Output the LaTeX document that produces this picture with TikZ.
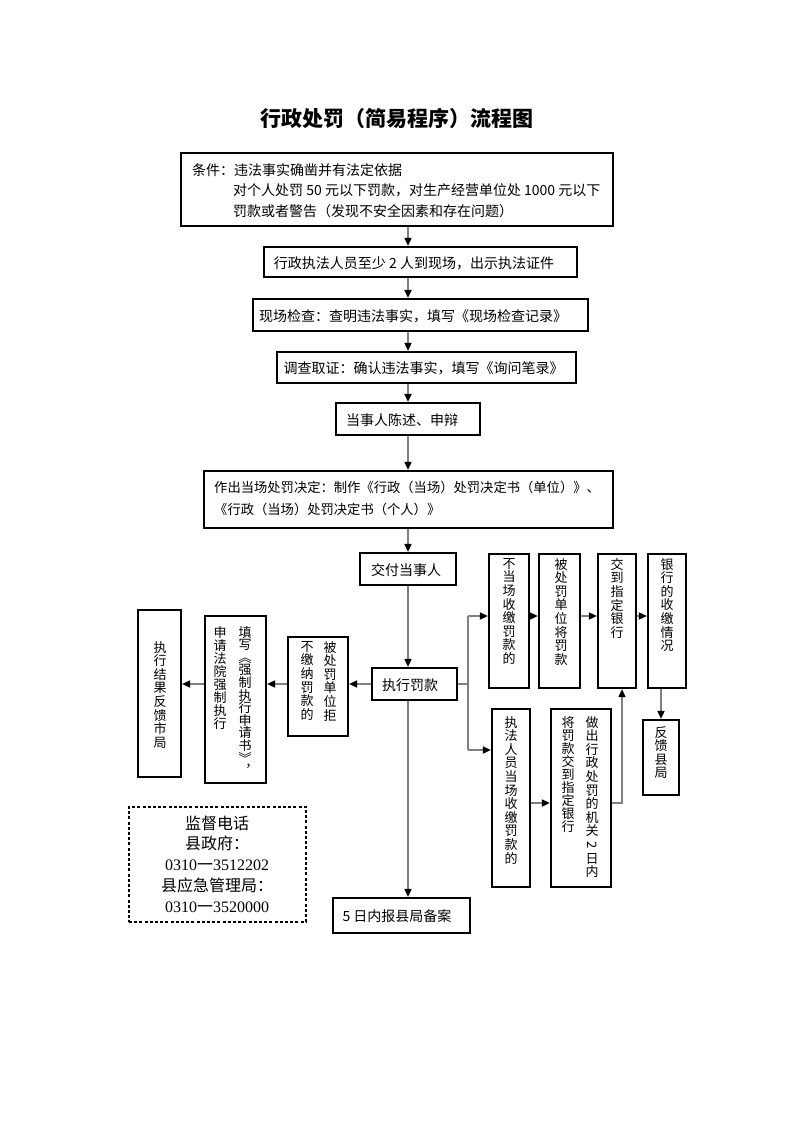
\documentclass[tikz,border=0pt]{standalone}
\usepackage{fontspec}
\usepackage{graphicx}
\setmainfont{Noto Sans CJK SC}
\newfontfamily\sernum{Liberation Serif}
\usetikzlibrary{arrows.meta}
\tikzset{
  box/.style={draw=black, line width=2.2pt, inner sep=0pt, fill=none},
  txt/.style={inner sep=0pt, font=\fontsize{14}{21}\selectfont},
  vtxt/.style={inner sep=0pt, anchor=north, align=center, font=\fontsize{13}{13.6}\selectfont},
  line/.style={draw=gray, line width=1.6pt},
  arr/.style={draw=gray, line width=1.6pt, -{Triangle[length=8pt,width=7pt,black]}},
  supbox/.style={draw=black, line width=1.1pt, dash pattern=on 3pt off 2.2pt, inner sep=0pt}
}
\newcommand{\vtwo}{\rotatebox[origin=c]{-90}{2}}
\begin{document}
\begin{tikzpicture}[x=1pt,y=-1pt]
\fill[white] (0,0) rectangle (793,1122);
\useasboundingbox (0,0) rectangle (793,1122);

% title
\node[inner sep=0pt, font=\bfseries\fontsize{21}{24}\selectfont] (title) at (397,118) {行政处罚（简易程序）流程图};

% main flow boxes
\node[box, minimum width=432pt, minimum height=73pt] (b1) at (397,189.5) {};
\node[txt, anchor=west] (t1a) at (192,170) {条件：违法事实确凿并有法定依据};
\node[txt, anchor=west] (t1b) at (233,190) {对个人处罚 50 元以下罚款，对生产经营单位处 1000 元以下};
\node[txt, anchor=west] (t1c) at (233,211) {罚款或者警告（发现不安全因素和存在问题）};

\node[box, minimum width=313pt, minimum height=30pt] (b2) at (420.5,262) {};
\node[txt] (t2) at (414,263) {行政执法人员至少 2 人到现场，出示执法证件};

\node[box, minimum width=335pt, minimum height=32pt] (b3) at (420.5,315) {};
\node[txt] (t3) at (413,316) {现场检查：查明违法事实，填写《现场检查记录》};

\node[box, minimum width=299pt, minimum height=31pt] (b4) at (426.5,367.5) {};
\node[txt] (t4) at (423.5,368) {调查取证：确认违法事实，填写《询问笔录》};

\node[box, minimum width=144pt, minimum height=32pt] (b5) at (408,419) {};
\node[txt] (t5) at (402,420) {当事人陈述、申辩};

\node[box, minimum width=409pt, minimum height=57pt] (b6) at (408.5,499.5) {};
\node[txt, anchor=west, font=\fontsize{13.3}{20}\selectfont] (t6a) at (214,487) {作出当场处罚决定：制作《行政（当场）处罚决定书（单位）》、};
\node[txt, anchor=west, font=\fontsize{13.3}{20}\selectfont] (t6b) at (214,509) {《行政（当场）处罚决定书（个人）》};

\node[box, minimum width=96pt, minimum height=32pt] (b7) at (408,569) {};
\node[txt] (t7) at (406,570) {交付当事人};

\node[box, minimum width=85pt, minimum height=32pt] (b8) at (414.5,684) {};
\node[txt] (t8) at (410,685) {执行罚款};

\node[box, minimum width=137pt, minimum height=35pt] (b9) at (401.5,915.5) {};
\node[txt] (t9) at (397,916) {5 日内报县局备案};

% left branch
\node[box, minimum width=60pt, minimum height=99pt] (bj) at (318,686.5) {};
\node[vtxt] (tja) at (330,641) {被\\处\\罚\\单\\位\\拒};
\node[vtxt] (tjb) at (307,641) {不\\缴\\纳\\罚\\款\\的};

\node[box, minimum width=61pt, minimum height=167pt] (bt) at (235.5,699.5) {};
\node[vtxt, font=\fontsize{13}{12.6}\selectfont] (tta) at (245,626) {填\\写\\︽\\强\\制\\执\\行\\申\\请\\书\\︾\\︐};
\node[vtxt, font=\fontsize{13}{13.1}\selectfont] (ttb) at (220,626) {申\\请\\法\\院\\强\\制\\执\\行};

\node[box, minimum width=43pt, minimum height=167pt] (bf) at (159.5,693.5) {};
\node[vtxt] (tf) at (160,641) {执\\行\\结\\果\\反\\馈\\市\\局};

% right branch
\node[box, minimum width=40pt, minimum height=134pt] (bn) at (509,621) {};
\node[vtxt] (tn) at (509,558) {不\\当\\场\\收\\缴\\罚\\款\\的};
\node[box, minimum width=41pt, minimum height=134pt] (bb) at (559.5,621) {};
\node[vtxt] (tb) at (561,558) {被\\处\\罚\\单\\位\\将\\罚\\款};
\node[box, minimum width=38pt, minimum height=134pt] (bz) at (617,621) {};
\node[vtxt] (tz) at (617,558) {交\\到\\指\\定\\银\\行};
\node[box, minimum width=38pt, minimum height=134pt] (by) at (667,621) {};
\node[vtxt] (ty) at (667,558) {银\\行\\的\\收\\缴\\情\\况};
\node[box, minimum width=36pt, minimum height=75pt] (bk) at (661,757.5) {};
\node[vtxt] (tk) at (661,726) {反\\馈\\县\\局};

\node[box, minimum width=38pt, minimum height=178pt] (bs) at (511,798) {};
\node[vtxt] (ts) at (511,716) {执\\法\\人\\员\\当\\场\\收\\缴\\罚\\款\\的};
\node[box, minimum width=60pt, minimum height=178pt] (bd) at (581,798) {};
\node[vtxt] (tda) at (592,716) {做\\出\\行\\政\\处\\罚\\的\\机\\关\\\vtwo\\日\\内};
\node[vtxt, font=\fontsize{13}{13.1}\selectfont] (tdb) at (568,716) {将\\罚\\款\\交\\到\\指\\定\\银\\行};

% supervision box
\node[supbox, minimum width=177pt, minimum height=115pt] (sup) at (217.5,864.5) {};
\node[inner sep=0pt, align=center, font=\fontsize{16}{20.8}\selectfont] (tsup) at (217,864) {监督电话\\县政府：\\{\sernum 0310}一{\sernum 3512202}\\县应急管理局：\\{\sernum 0310}一{\sernum 3520000}};

% connectors main flow
\draw[arr] (b1.south -| b7.south) -- (b2.north -| b7.south);
\draw[arr] (b2.south -| b7.south) -- (b3.north -| b7.south);
\draw[arr] (b3.south -| b7.south) -- (b4.north -| b7.south);
\draw[arr] (b4.south -| b7.south) -- (b5.north -| b7.south);
\draw[arr] (b5.south -| b7.south) -- (b6.north -| b7.south);
\draw[arr] (b6.south -| b7.south) -- (b7.north);
\draw[arr] (b7.south) -- (b7.south |- b8.north);
\draw[arr] (b7.south |- b8.south) -- (b7.south |- b9.north);

% left connectors
\draw[arr] (b8.west) -- (b8.west -| bj.east);
\draw[arr] (bj.west |- b8.west) -- (bt.east |- b8.west);
\draw[arr] (bt.west |- b8.west) -- (bf.east |- b8.west);

% right connectors
\coordinate (br) at (468,684);
\coordinate (brt) at (468,616);
\coordinate (brb) at (468,750);
\draw[line] (b8.east) -- (br);
\draw[line] (brt) -- (brb);
\draw[arr] (brt) -- (brt -| bn.west);
\draw[arr] (brb) -- (brb -| bs.west);
\draw[arr] (bn.east |- brt) -- (bb.west |- brt);
\draw[arr] (bb.east |- brt) -- (bz.west |- brt);
\draw[arr] (bz.east |- brt) -- (by.west |- brt);
\draw[arr] (bk.north |- by.south) -- (bk.north);
\coordinate (bdo) at ([yshift=-5pt]bd.east);
\draw[arr] (bs.east |- bdo) -- (bd.west |- bdo);
\draw[arr] (bdo) -| ([xshift=5pt]bz.south);
\end{tikzpicture}
\end{document}
